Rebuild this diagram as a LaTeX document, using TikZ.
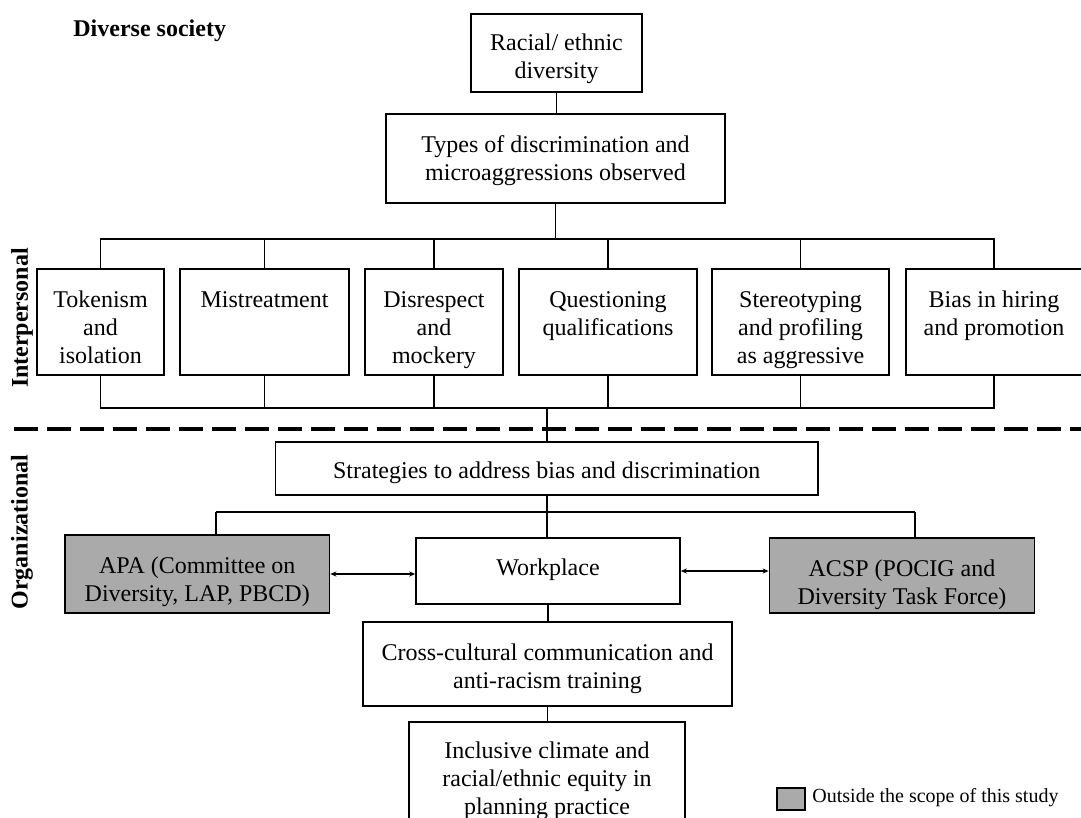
\documentclass[tikz,border=0pt]{standalone}
\usepackage{fontspec}
\setmainfont{Liberation Serif}
\usetikzlibrary{arrows.meta}
\definecolor{boxgray}{RGB}{170,170,170}
\begin{document}
\begin{tikzpicture}[x=0.5pt,y=-0.5pt,
  every node/.style={inner sep=0pt, font=\fontsize{12pt}{14pt}\selectfont},
  box/.style={draw, line width=0.9pt},
  graybox/.style={box, fill=boxgray},
  lbl/.style={anchor=north, align=center},
  conn/.style={line width=0.9pt},
  twoway/.style={line width=0.8pt, {Stealth[length=3pt,width=2.6pt]}-{Stealth[length=3pt,width=2.6pt]}},
  sep/.style={line width=1.8pt, dash pattern=on 12pt off 4.5pt},
  side/.style={font=\fontsize{12pt}{14pt}\selectfont\bfseries, rotate=90}
]
\useasboundingbox (0,0) rectangle (1081,818);

% side and title labels
\node[anchor=base west, font=\fontsize{12pt}{14pt}\selectfont\bfseries] (title) at (73,37) {Diverse society};
\node[side] (interp) at (22,318) {Interpersonal};
\node[side] (organ) at (22,532) {Organizational};

% top boxes
\node[box, minimum width=85.5pt, minimum height=39pt] (racial) at (556.5,53) {};
\node[lbl] (racialL) at (556.5,30.4) {\strut Racial/ ethnic\\diversity};
\node[box, minimum width=169.5pt, minimum height=44.5pt] (types) at (555.5,158.5) {};
\node[lbl] (typesL) at (555.5,132.4) {\strut Types of discrimination and\\microaggressions observed};

% interpersonal row
\node[box, minimum width=63.5pt, minimum height=53pt] (t1) at (100.5,322) {};
\node[box, minimum width=84.5pt, minimum height=53pt] (t2) at (264.5,322) {};
\node[box, minimum width=69pt, minimum height=53pt] (t3) at (434,322) {};
\node[box, minimum width=89pt, minimum height=53pt] (t4) at (608,322) {};
\node[box, minimum width=88.5pt, minimum height=53pt] (t5) at (800.5,322) {};
\node[box, minimum width=88pt, minimum height=53pt] (t6) at (994,322) {};
\node[lbl] (t1L) at (100.5,287.4) {\strut Tokenism\\and\\isolation};
\node[lbl] (t2L) at (264.5,287.4) {\strut Mistreatment};
\node[lbl] (t3L) at (434,287.4) {\strut Disrespect\\and\\mockery};
\node[lbl] (t4L) at (608,287.4) {\strut Questioning\\qualifications};
\node[lbl] (t5L) at (800.5,287.4) {\strut Stereotyping\\and profiling\\as aggressive};
\node[lbl] (t6L) at (994,287.4) {\strut Bias in hiring\\and promotion};

% organizational
\node[box, minimum width=271.25pt, minimum height=26.5pt] (strat) at (546.75,468.5) {};
\node[lbl] (stratL) at (546.75,458.4) {\strut Strategies to address bias and discrimination};
\node[graybox, minimum width=132.25pt, minimum height=39pt] (apa) at (197.25,574) {};
\node[lbl] (apaL) at (197.25,553.4) {\strut APA (Committee on\\Diversity, LAP, PBCD)};
\node[box, minimum width=132pt, minimum height=33pt] (work) at (548,571) {};
\node[lbl] (workL) at (548,555.4) {\strut Workplace};
\node[graybox, minimum width=132.5pt, minimum height=37.5pt] (acsp) at (902,575.5) {};
\node[lbl] (acspL) at (902,556.4) {\strut ACSP (POCIG and\\Diversity Task Force)};
\node[box, minimum width=184.5pt, minimum height=42pt] (cross) at (547.5,664) {};
\node[lbl] (crossL) at (547.5,640.4) {\strut Cross-cultural communication and\\anti-racism training};
\node[box, minimum width=138pt, minimum height=59pt] (incl) at (547,781) {};
\node[lbl] (inclL) at (547,738.4) {\strut Inclusive climate and\\racial/ethnic equity in\\planning practice};

% legend
\node[graybox, minimum width=14pt, minimum height=11pt] (legbox) at (791,799) {};
\node[anchor=base west, font=\fontsize{10pt}{12pt}\selectfont] (legtext) at (812,802) {Outside the scope of this study};

% coordinates
\coordinate (top) at (556,239);
\coordinate (bot) at (547,408);
\coordinate (apaX) at (216,512);
\coordinate (acspX) at (915,512);
\coordinate (dl) at (14,429);
\coordinate (dr) at (1081,429);

% connectors top
\draw[conn] (racial.south) -- (racial.south |- types.north);
\draw[conn] (types.south) -- (types.south |- top);
\draw[conn] (t1.north) |- (top) -| (t6.north);
\foreach \n in {t2,t3,t4,t5} \draw[conn] (\n.north) -- (\n.north |- top);
\draw[conn] (t1.south) |- (bot) -| (t6.south);
\foreach \n in {t2,t3,t4,t5} \draw[conn] (\n.south) -- (\n.south |- bot);
\draw[conn] (bot) -- (bot |- strat.north);

% separator
\draw[sep] (dl) -- (dr);

% organizational connectors
\draw[conn] (strat.south) -- (strat.south |- work.north);
\draw[conn] (apaX) -- (acspX);
\draw[conn] (apaX) -- (apaX |- apa.north);
\draw[conn] (acspX) -- (acspX |- acsp.north);
\draw[twoway] (apa.east) -- (apa.east -| work.west);
\draw[twoway] (work.east) -- (work.east -| acsp.west);
\draw[conn] (work.south) -- (work.south |- cross.north);
\draw[conn] (cross.south) -- (cross.south |- incl.north);
\end{tikzpicture}
\end{document}
